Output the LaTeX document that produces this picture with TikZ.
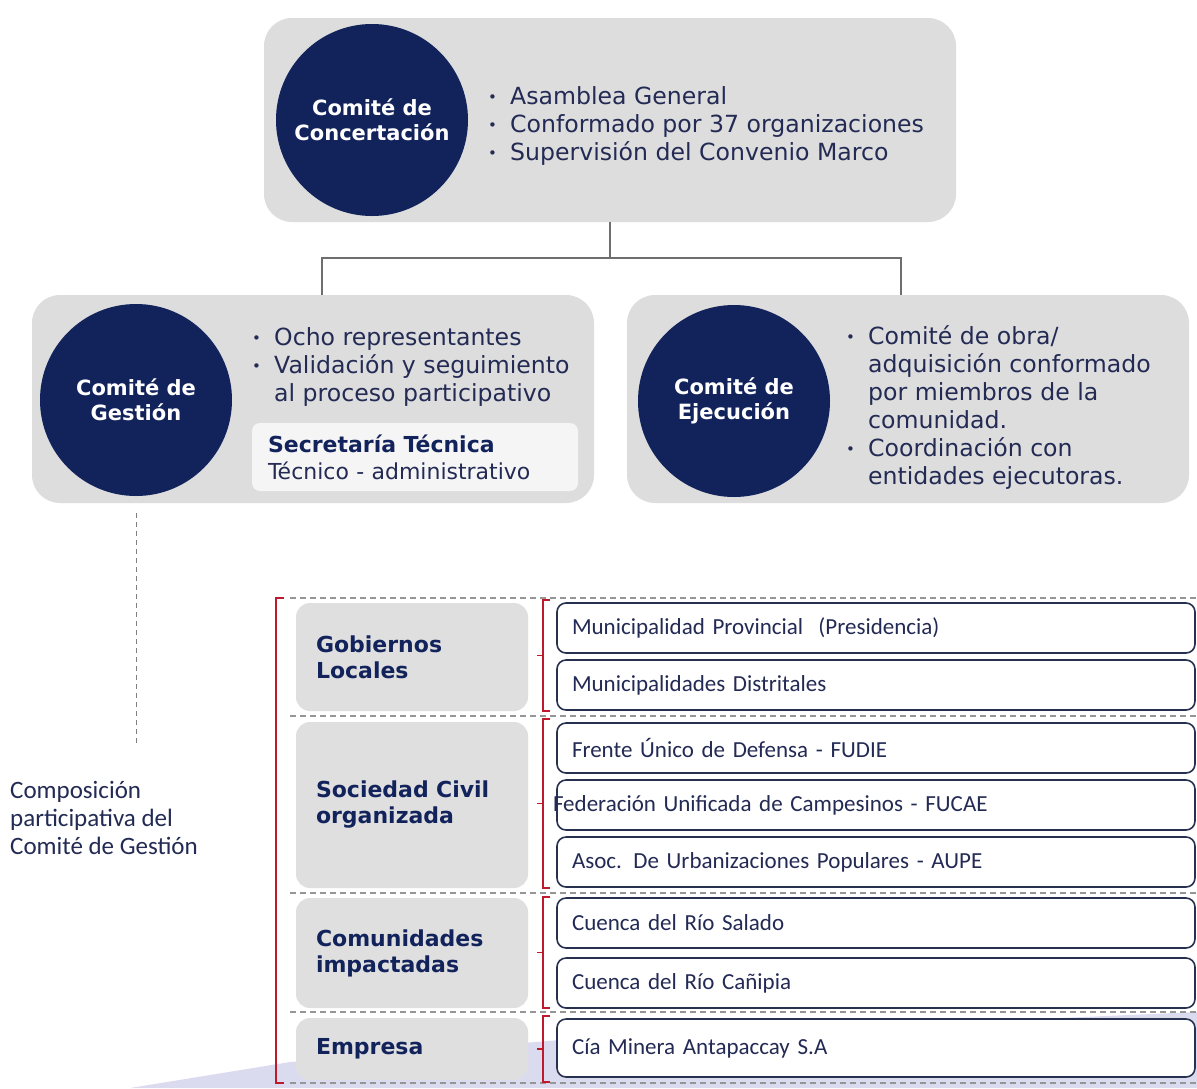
\documentclass[tikz,border=0pt]{standalone}
\usepackage{fontspec}
\setmainfont{DejaVu Sans}
\newfontfamily\calfont{Carlito}
\definecolor{navy}{RGB}{18,35,92}
\definecolor{panelgrey}{RGB}{221,221,221}
\definecolor{catgrey}{RGB}{223,223,223}
\definecolor{txtnavy}{RGB}{35,42,84}
\definecolor{brkred}{RGB}{190,25,45}
\definecolor{lav}{RGB}{205,205,235}
\newcommand{\bul}{\makebox[22pt][l]{\fontsize{15}{15}\selectfont\raisebox{1.5pt}{•}}}
\newcommand{\cont}{\hspace*{22pt}}

\begin{document}
\begin{tikzpicture}[x=1pt,y=-1pt,
  panel/.style={fill=panelgrey,rounded corners=28pt,inner sep=0pt},
  comite/.style={fill=navy,shape=circle,minimum size=192pt,inner sep=0pt,text=white,align=center,font=\bfseries\fontsize{21}{25}\selectfont},
  item/.style={text=txtnavy,anchor=base west,inner sep=0pt,font=\fontsize{23.6}{28}\selectfont},
  secbox/.style={fill=white!96!black,rounded corners=8pt,minimum width=326pt,minimum height=68pt,text width=294pt,inner xsep=16pt,align=left,text=txtnavy,font=\fontsize{22}{27}\selectfont},
  catbox/.style={fill=catgrey,rounded corners=14pt,minimum width=232pt,text width=192pt,inner xsep=20pt,align=left,text=navy,font=\bfseries\fontsize{22}{26}\selectfont},
  orgbox/.style={draw={rgb,255:red,40;green,48;blue,80},line width=1.6pt,fill=white,rounded corners=9pt,minimum width=638pt,text width=608pt,inner xsep=15pt,align=left,text=txtnavy,font=\calfont\fontsize{23}{26}\selectfont},
  link/.style={draw={rgb,255:red,110;green,110;blue,110},line width=1.2pt},
  brk/.style={draw=brkred,line width=1.3pt},
  sep/.style={draw={rgb,255:red,150;green,150;blue,150},line width=1.2pt,dash pattern=on 6pt off 4pt}]

\path[fill=white,use as bounding box] (0,0) rectangle (1197,1088);

% lavender wash at the foot
\fill[lav,opacity=0.7] (130,1088) -- (290,1062) -- (560,1040) -- (1197,1012) -- (1197,1088) -- cycle;

% Upper panels with their circles
\node[panel,minimum width=692pt,minimum height=204pt] (conc) at (610,120) {};
\node[comite] (cc) at (372,120) {Comité de\\Concertación};
\node[item] (ccl) at (488,104) {\begin{tabular}[t]{@{}l@{}}\bul Asamblea General\\ \bul Conformado por 37 organizaciones\\ \bul Supervisión del Convenio Marco\end{tabular}};

\node[panel,minimum width=562pt,minimum height=208pt] (gest) at (313,399) {};
\node[comite] (gc) at (136,400) {Comité de\\Gestión};
\node[item] (gcl) at (252,345) {\begin{tabular}[t]{@{}l@{}}\bul Ocho representantes\\ \bul Validación y seguimiento\\ \cont al proceso participativo\end{tabular}};
\node[secbox] (sec) at (415,457) {\textcolor{navy}{\textbf{Secretaría Técnica}}\\Técnico - administrativo};

\node[panel,minimum width=562pt,minimum height=208pt] (ejec) at (908,399) {};
\node[comite] (ec) at (734,401) {Comité de\\Ejecución};
\node[item] (ecl) at (846,344) {\begin{tabular}[t]{@{}l@{}}\bul Comité de obra/\\ \cont adquisición conformado\\ \cont por miembros de la\\ \cont comunidad.\\ \bul Coordinación con\\ \cont entidades ejecutoras.\end{tabular}};

% Links between the panels
\coordinate (jn) at (610,258);
\draw[link] (conc.south) -- (jn);
\draw[link] (jn) -| ([xshift=9pt]gest.north);
\draw[link] (jn) -| ([xshift=-7pt]ejec.north);

% Composition of the Comité de Gestión
\coordinate (cgend) at (136,745);
\draw[draw=gray,line width=1pt,dash pattern=on 5pt off 4pt,shorten <=17pt] (gc) -- (cgend);
\node[anchor=west,align=left,inner sep=0pt,text=txtnavy,font=\calfont\fontsize{25}{28}\selectfont] (note) at (10,818) {Composición\\participativa del\\Comité de Gestión};

\foreach \y in {598,716,893,1012,1083}
  \draw[sep] (290,\y) -- (1197,\y);
\draw[brk] (284,598) -- (276,598) -- (276,1083) -- (284,1083);

\foreach \t/\y/\h [count=\i] in {{Gobiernos\\Locales}/657/108,{Sociedad Civil\\organizada}/805/166,{Comunidades\\impactadas}/953/110,Empresa/1049/62}
  \node[catbox,minimum height=\h pt] (k\i) at (412,\y) {\t};

\foreach \a/\b in {600/711,719/888,897/1008,1016/1082}
  \draw[brk] (550,\a) -- (543,\a) -- (543,\b) -- (550,\b) (543,{(\a+\b)/2}) -- (537,{(\a+\b)/2});

\foreach \t/\y/\h [count=\i] in {Municipalidad Provincial\ \ (Presidencia)/628/50,Municipalidades Distritales/685/50,Frente Único de Defensa - FUDIE/748/50,{\hspace*{-19pt}Federación Unificada de Campesinos - FUCAE}/805/50,Asoc. De Urbanizaciones Populares - AUPE/862/50,Cuenca del Río Salado/923/50,Cuenca del Río Cañipia/983/50,Cía Minera Antapaccay S.A/1048/58}
  \node[orgbox,minimum height=\h pt] (o\i) at (876,\y) {\t};

\end{tikzpicture}
\end{document}
